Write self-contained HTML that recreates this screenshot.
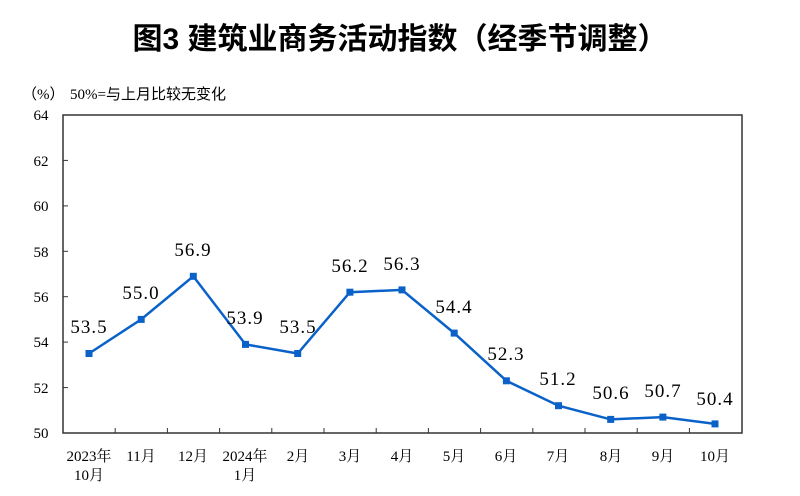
<!DOCTYPE html>
<html><head><meta charset="utf-8"><style>
body{margin:0;background:#fff;}
svg{display:block;}
text{font-family:"Liberation Serif","Noto Serif CJK SC",serif;fill:#000;}
</style></head><body>
<svg width="800" height="496" viewBox="0 0 800 496" xmlns="http://www.w3.org/2000/svg">
<text x="400" y="49" text-anchor="middle" font-size="30" font-weight="bold" style="font-family:'Liberation Sans','Noto Sans CJK SC',sans-serif">图3  建筑业商务活动指数（经季节调整）</text>
<text x="22" y="99" font-size="15" style="font-family:'Liberation Serif','Noto Sans CJK SC',serif">（%）</text>
<text x="70" y="99" font-size="15" style="font-family:'Liberation Serif','Noto Sans CJK SC',serif">50%=与上月比较无变化</text>
<rect x="63" y="115" width="679" height="318" fill="none" stroke="#333" stroke-width="1.5"/>
<g font-size="15" text-anchor="middle">
<text x="41" y="120">64</text><text x="41" y="166">62</text><text x="41" y="211">60</text><text x="41" y="257">58</text><text x="41" y="302">56</text><text x="41" y="347">54</text><text x="41" y="393">52</text><text x="41" y="438">50</text>
</g>
<g stroke="#333" stroke-width="1">
<line x1="63" y1="160.4" x2="68" y2="160.4"/><line x1="63" y1="205.9" x2="68" y2="205.9"/><line x1="63" y1="251.3" x2="68" y2="251.3"/><line x1="63" y1="296.7" x2="68" y2="296.7"/><line x1="63" y1="342.1" x2="68" y2="342.1"/><line x1="63" y1="387.6" x2="68" y2="387.6"/>
<line x1="115.2" y1="433" x2="115.2" y2="428"/><line x1="167.4" y1="433" x2="167.4" y2="428"/><line x1="219.6" y1="433" x2="219.6" y2="428"/><line x1="271.8" y1="433" x2="271.8" y2="428"/><line x1="324" y1="433" x2="324" y2="428"/><line x1="376.2" y1="433" x2="376.2" y2="428"/><line x1="428.4" y1="433" x2="428.4" y2="428"/><line x1="480.6" y1="433" x2="480.6" y2="428"/><line x1="532.8" y1="433" x2="532.8" y2="428"/><line x1="585" y1="433" x2="585" y2="428"/><line x1="637.2" y1="433" x2="637.2" y2="428"/><line x1="689.4" y1="433" x2="689.4" y2="428"/>
</g>
<polyline fill="none" stroke="#0a62c9" stroke-width="2.5" points="89,353.5 141.2,319.4 193.3,276.3 245.5,344.4 297.7,353.5 349.9,292.2 402,289.9 454.2,333.1 506.4,380.8 558.5,405.7 610.7,419.4 662.9,417.1 715,423.9"/>
<g fill="#0a62c9">
<rect x="85.5" y="350" width="7" height="7"/><rect x="137.7" y="315.9" width="7" height="7"/><rect x="189.8" y="272.8" width="7" height="7"/><rect x="242" y="340.9" width="7" height="7"/><rect x="294.2" y="350" width="7" height="7"/><rect x="346.4" y="288.7" width="7" height="7"/><rect x="398.5" y="286.4" width="7" height="7"/><rect x="450.7" y="329.6" width="7" height="7"/><rect x="502.9" y="377.3" width="7" height="7"/><rect x="555" y="402.2" width="7" height="7"/><rect x="607.2" y="415.9" width="7" height="7"/><rect x="659.4" y="413.6" width="7" height="7"/><rect x="711.5" y="420.4" width="7" height="7"/>
</g>
<g font-size="19" text-anchor="middle" letter-spacing="1">
<text x="89" y="333">53.5</text><text x="141" y="299">55.0</text><text x="193" y="256">56.9</text><text x="245" y="324">53.9</text><text x="298" y="333">53.5</text><text x="350" y="272">56.2</text><text x="402" y="270">56.3</text><text x="454" y="313">54.4</text><text x="506" y="360">52.3</text><text x="558" y="385">51.2</text><text x="611" y="399">50.6</text><text x="663" y="397">50.7</text><text x="715" y="405">50.4</text>
</g>
<g font-size="15" text-anchor="middle">
<text x="89" y="461">2023年</text><text x="89" y="480">10月</text>
<text x="141" y="461">11月</text><text x="193" y="461">12月</text>
<text x="245" y="461">2024年</text><text x="245" y="480">1月</text>
<text x="298" y="461">2月</text><text x="350" y="461">3月</text><text x="402" y="461">4月</text><text x="454" y="461">5月</text><text x="506" y="461">6月</text><text x="558" y="461">7月</text><text x="611" y="461">8月</text><text x="663" y="461">9月</text><text x="715" y="461">10月</text>
</g>
</svg>
</body></html>
